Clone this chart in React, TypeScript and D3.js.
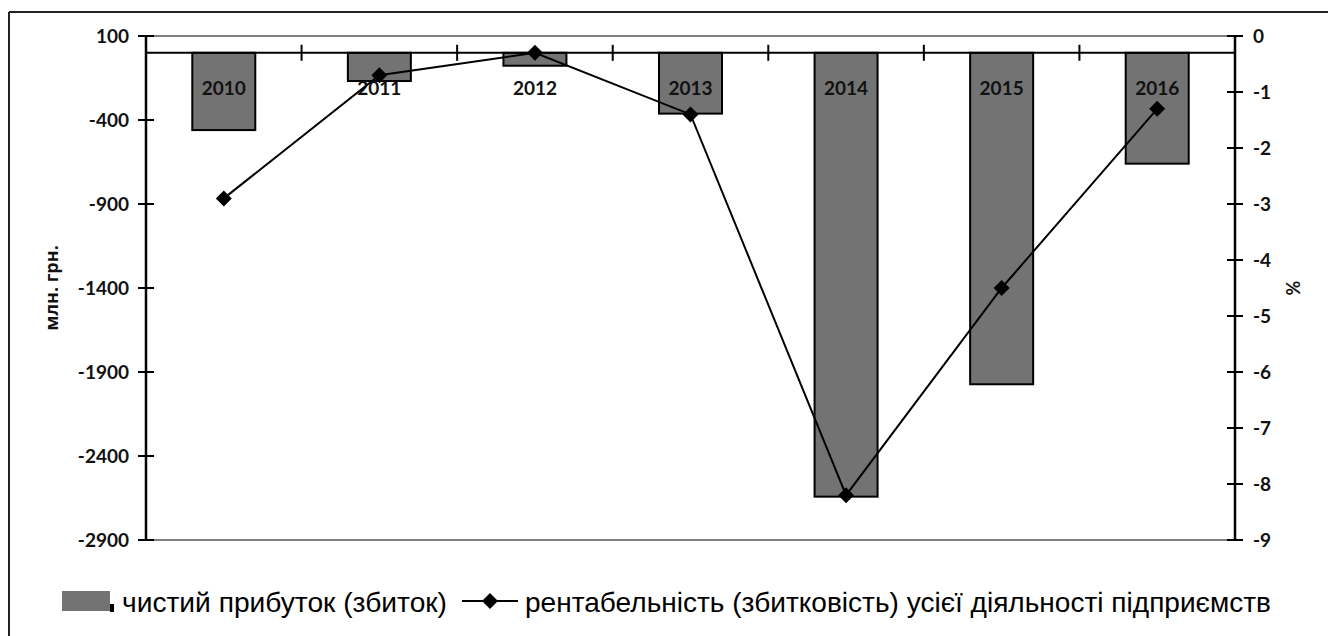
import React from "react";
import * as d3 from "d3";

const years = ["2010", "2011", "2012", "2013", "2014", "2015", "2016"];
const netProfit = [-460, -168, -77, -362, -2642, -1973, -660];
const profitability = [-2.9, -0.7, -0.3, -1.4, -8.2, -4.5, -1.3];
const leftTicks = [100, -400, -900, -1400, -1900, -2400, -2900];
const rightTicks = [0, -1, -2, -3, -4, -5, -6, -7, -8, -9];

const barLabel = "чистий прибуток (збиток)";
const lineLabel = "рентабельність (збитковість) усієї діяльності підприємств";

const App: React.FC = () => {
  const width = 1328;
  const height = 636;
  const left = 146;
  const right = 1235;
  const top = 36;
  const bottom = 540;

  const x = d3.scaleBand().domain(years).range([left, right]).padding(0);
  const yL = d3.scaleLinear().domain([-2900, 100]).range([bottom, top]);
  const yR = d3.scaleLinear().domain([-9, 0]).range([bottom, top]);

  const barW = x.bandwidth() * 0.405;
  const zeroY = yL(0);

  const lineGen = d3
    .line<number>()
    .x((_, i) => (x(years[i]) || 0) + x.bandwidth() / 2)
    .y((d) => yR(d));

  const diamond = (cx: number, cy: number, r: number) =>
    `M${cx},${cy - r}L${cx + r},${cy}L${cx},${cy + r}L${cx - r},${cy}Z`;

  const boldFont = "Lato, 'Open Sans', sans-serif";

  return (
    <svg
      width={width}
      height={height}
      style={{ position: "absolute", left: 0, top: 0, background: "#fff" }}
    >
      {/* outer frame */}
      <line x1={9} y1={12} x2={width} y2={12} stroke="#222" strokeWidth={2} />
      <line x1={9} y1={12} x2={9} y2={height} stroke="#222" strokeWidth={2} />

      {/* plot area border lines */}
      <line x1={left} y1={top} x2={right} y2={top} stroke="#808080" strokeWidth={2} />
      <line x1={left} y1={bottom} x2={right} y2={bottom} stroke="#808080" strokeWidth={2} />

      {/* bars */}
      {years.map((yr, i) => {
        const cx = (x(yr) || 0) + x.bandwidth() / 2;
        const v = netProfit[i];
        return (
          <rect
            key={yr}
            x={cx - barW / 2}
            y={zeroY}
            width={barW}
            height={yL(v) - zeroY}
            fill="#737373"
            stroke="#000"
            strokeWidth={2}
          />
        );
      })}

      {/* category axis at zero */}
      <line x1={left} y1={zeroY} x2={right} y2={zeroY} stroke="#000" strokeWidth={2} />
      {years.slice(1).map((yr) => (
        <line
          key={yr}
          x1={x(yr)}
          x2={x(yr)}
          y1={zeroY - 8}
          y2={zeroY + 8}
          stroke="#000"
          strokeWidth={2}
        />
      ))}

      {/* year labels */}
      {years.map((yr) => (
        <text
          key={yr}
          x={(x(yr) || 0) + x.bandwidth() / 2}
          y={95}
          textAnchor="middle"
          fontFamily={boldFont}
          fontWeight="bold"
          fontSize={19}
          fill="#111"
        >
          {yr}
        </text>
      ))}

      {/* line series */}
      <path d={lineGen(profitability) || ""} fill="none" stroke="#000" strokeWidth={2} />
      {profitability.map((v, i) => (
        <path
          key={i}
          d={diamond((x(years[i]) || 0) + x.bandwidth() / 2, yR(v), 8)}
          fill="#000"
        />
      ))}

      {/* left axis */}
      <line x1={left} y1={top} x2={left} y2={bottom} stroke="#000" strokeWidth={2.5} />
      {leftTicks.map((t) => (
        <g key={t}>
          <line x1={left - 8} x2={left + 8} y1={yL(t)} y2={yL(t)} stroke="#000" strokeWidth={2} />
          <text
            x={129}
            y={yL(t)}
            dy="0.36em"
            textAnchor="end"
            fontFamily={boldFont}
            fontWeight="bold"
            fontSize={19}
            fill="#111"
          >
            {t}
          </text>
        </g>
      ))}
      <text
        transform={`translate(58, ${(top + bottom) / 2}) rotate(-90)`}
        textAnchor="middle"
        fontFamily="'Open Sans', sans-serif"
        fontWeight="bold"
        fontSize={18}
        fill="#111"
      >
        млн. грн.
      </text>

      {/* right axis */}
      <line x1={right} y1={top} x2={right} y2={bottom} stroke="#000" strokeWidth={2.5} />
      {rightTicks.map((t) => (
        <g key={t}>
          <line x1={right - 8} x2={right + 8} y1={yR(t)} y2={yR(t)} stroke="#000" strokeWidth={2} />
          <text
            x={1253}
            y={yR(t)}
            dy="0.36em"
            textAnchor="start"
            fontFamily={boldFont}
            fontWeight="bold"
            fontSize={19}
            fill="#111"
          >
            {t}
          </text>
        </g>
      ))}
      <text
        transform={`translate(1300, ${(top + bottom) / 2}) rotate(-90)`}
        textAnchor="middle"
        fontFamily={boldFont}
        fontWeight="bold"
        fontSize={18}
        fill="#111"
      >
        %
      </text>

      {/* legend */}
      <rect x={62} y={591} width={48} height={20} fill="#737373" />
      <rect x={110} y={604} width={4} height={8} fill="#000" />
      <text
        x={122}
        y={612}
        fontFamily="'Liberation Sans', Arial, sans-serif"
        fontSize={28}
        textLength={325}
        lengthAdjust="spacingAndGlyphs"
        fill="#000"
      >
        {barLabel}
      </text>
      <line x1={462} x2={518} y1={601} y2={601} stroke="#000" strokeWidth={2} />
      <path d={diamond(490, 601, 8)} fill="#000" />
      <text
        x={525}
        y={612}
        fontFamily="'Liberation Sans', Arial, sans-serif"
        fontSize={28}
        textLength={746}
        lengthAdjust="spacingAndGlyphs"
        fill="#000"
      >
        {lineLabel}
      </text>
    </svg>
  );
};

export default App;
